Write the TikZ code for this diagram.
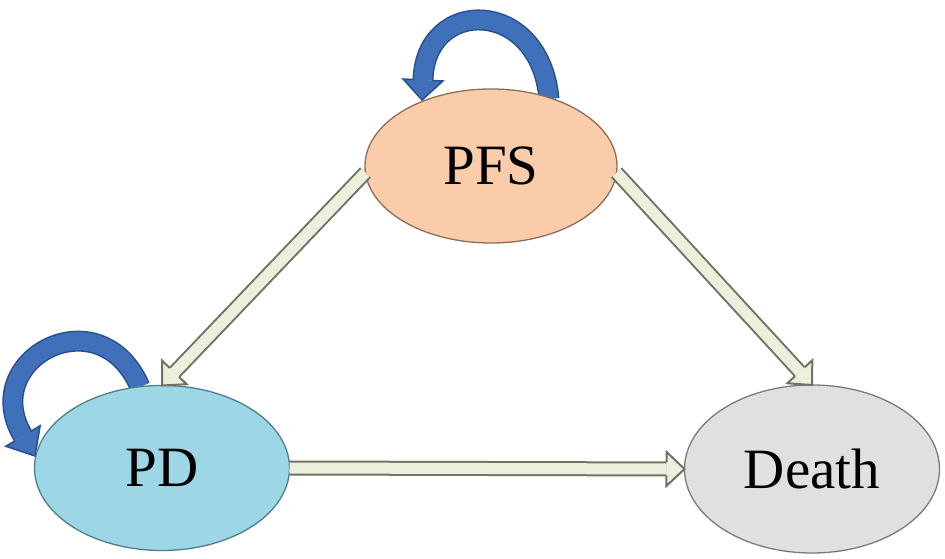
\documentclass[tikz,border=0pt]{standalone}
\usepackage{fontspec}
\setmainfont{Liberation Serif}
\usetikzlibrary{shapes.geometric,calc}
\definecolor{pfsfill}{HTML}{FACCAA}
\definecolor{pfsline}{HTML}{8B6E57}
\definecolor{pdfill}{HTML}{9DD6E4}
\definecolor{pdline}{HTML}{4F7F8C}
\definecolor{deathfill}{HTML}{E0E0E0}
\definecolor{deathline}{HTML}{7A7A7A}
\definecolor{arrfill}{HTML}{EDEEDD}
\definecolor{arrline}{HTML}{6F7462}
\definecolor{loopfill}{HTML}{3F70B9}
\definecolor{loopline}{HTML}{27508F}
\tikzset{
  statenode/.style={ellipse, inner sep=0pt, outer sep=0pt, line width=1.3pt,
    font=\fontsize{57}{60}\selectfont},
  shaftstyle/.style={line width=2pt, draw=arrline, double=arrfill, double distance=11pt},
  headline/.style={draw=arrline, line width=2pt, line join=miter},
  loopout/.style={draw=loopline, line width=21pt},
  loopin/.style={draw=loopfill, line width=18pt},
  loophead/.style={draw=loopline, line width=1.5pt, line join=miter},
}
% #1 base, #2 tip, #3 half shaft width, #4 half wing width, #5 fill, #6 line style
\newcommand\myhead[6]{%
  \coordinate (hd-s1) at ($(#1)!#3!90:(#2)$);
  \coordinate (hd-s2) at ($(#1)!#3!-90:(#2)$);
  \coordinate (hd-w1) at ($(#1)!#4!90:(#2)$);
  \coordinate (hd-w2) at ($(#1)!#4!-90:(#2)$);
  \fill[#5] (hd-w1) -- (#2) -- (hd-w2) -- cycle;
  \draw[#6] (hd-s1) -- (hd-w1) -- (#2) -- (hd-w2) -- (hd-s2);
}
\newcommand\blockarrow[2]{%
  \coordinate (ba-b) at ($(#2)!18pt!(#1)$);
  \draw[shaftstyle] (#1) -- (ba-b);
  \myhead{ba-b}{#2}{6.5pt}{17pt}{arrfill}{headline}
}
\begin{document}
\begin{tikzpicture}[x=1pt,y=1pt]
\useasboundingbox (0,0) rectangle (945,559);

% self loops (drawn first, the states cover their ends)
\coordinate (l1a) at (549,460);
\coordinate (l1b) at (423,479);
\coordinate (l1t) at (422,459);
\draw[loopout] (l1a) .. controls (540,562) and (425,562) .. (l1b);
\draw[loopin] (l1a) .. controls (540,562) and (425,562) .. (l1b);
\myhead{l1b}{l1t}{9pt}{20pt}{loopfill}{loophead}

\coordinate (l2a) at (140,172);
\coordinate (l2b) at (23,123);
\coordinate (l2t) at (35,103);
\draw[loopout] (l2a) .. controls (100,265) and (-23,200) .. (l2b);
\draw[loopin] (l2a) .. controls (100,265) and (-23,200) .. (l2b);
\myhead{l2b}{l2t}{9pt}{20pt}{loopfill}{loophead}

% states
\node[statenode, fill=pfsfill, draw=pfsline, minimum width=252pt, minimum height=154pt] (pfs) at (491,393) {PFS};
\node[statenode, fill=pdfill, draw=pdline, minimum width=255pt, minimum height=165pt] (pd) at (162,91) {PD};
\node[statenode, fill=deathfill, draw=deathline, minimum width=255pt, minimum height=168pt] (death) at (812,90) {Death};

% transitions
\blockarrow{pfs.183}{pd.north}
\blockarrow{pfs.357}{death.north}
\blockarrow{pd.east}{death.west}
\end{tikzpicture}
\end{document}
